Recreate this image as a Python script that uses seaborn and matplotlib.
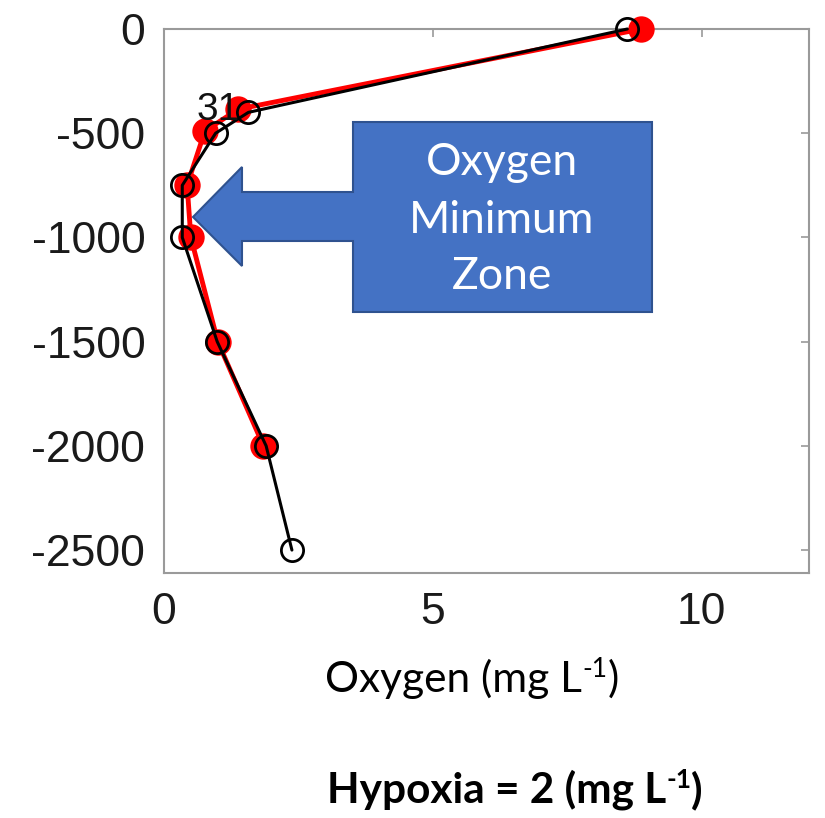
import matplotlib
matplotlib.use("Agg")
import matplotlib.pyplot as plt
from matplotlib.patches import Polygon
import seaborn as sns
import pandas as pd

# Dissolved oxygen profiles (mg/L) against depth (m)
depth_a = [0, -400, -500, -750, -1000, -1500, -2000, -2500]
oxygen_a = [8.62, 1.57, 0.96, 0.34, 0.34, 0.99, 1.90, 2.38]

depth_b = [0, -385, -490, -750, -1000, -1500, -2000]
oxygen_b = [8.88, 1.38, 0.76, 0.43, 0.50, 1.00, 1.85]

x_ticks = [0, 5, 10]
y_ticks = [-2500, -2000, -1500, -1000, -500, 0]
station_label = "31"

W, H = 825, 818

sns.set_style("white")
plt.rcParams["font.family"] = ["Liberation Sans", "DejaVu Sans"]
plt.rcParams["axes.unicode_minus"] = False


def fx(px):
    return px / W


def fy(py):
    return 1 - py / H


fig = plt.figure(figsize=(W / 100, H / 100), dpi=100)
ax = fig.add_axes([fx(164), fy(573), (809 - 164) / W, (573 - 29) / H])

df_b = pd.DataFrame({"oxygen": oxygen_b, "depth": depth_b})
df_a = pd.DataFrame({"oxygen": oxygen_a, "depth": depth_a})

sns.lineplot(data=df_b, x="oxygen", y="depth", sort=False, estimator=None,
             color="#ff0000", lw=3.5, marker="o", markersize=19,
             markeredgecolor="#ff0000", markeredgewidth=0, clip_on=False,
             ax=ax, zorder=3)
sns.lineplot(data=df_a, x="oxygen", y="depth", sort=False, estimator=None,
             color="black", lw=2.2, marker="o", markersize=16,
             markerfacecolor="none", markeredgecolor="black",
             markeredgewidth=2.0, clip_on=False, ax=ax, zorder=4)

ax.text(0.6, -437, station_label, fontsize=28, ha="left", va="baseline",
        color="#111111", zorder=5)

ax.set_xlim(0, 12)
ax.set_ylim(-2610, 0)
ax.set_xticks(x_ticks)
ax.set_yticks(y_ticks)
ax.set_xlabel("")
ax.set_ylabel("")
for s in ax.spines.values():
    s.set_color("#9a9a9a")
    s.set_linewidth(1.5)
ax.tick_params(direction="in", length=6, width=1.2, color="#9a9a9a",
               labelcolor="#1a1a1a", labelsize=32, pad=13.5,
               top=True, right=True)

# Block arrow pointing at the oxygen minimum layer
pts = [(193, 217), (242, 167), (242, 192), (353, 192), (353, 122),
       (652, 122), (652, 312), (353, 312), (353, 241), (242, 241),
       (242, 266)]
arrow = Polygon([(fx(x), fy(y)) for x, y in pts], closed=True,
                transform=fig.transFigure, facecolor="#4472c4",
                edgecolor="#2f528f", linewidth=1.5, zorder=10)
fig.patches.append(arrow)

for word, base in [("Oxygen", 175), ("Minimum", 233), ("Zone", 289)]:
    fig.text(fx(502), fy(base), word, family="Lato", fontsize=32,
             color="white", ha="center", va="baseline", zorder=11)


def unit_label(cx, base_y, head, size, weight):
    """Write head + superscript '-1' + ')' centred on cx (pixels)."""
    renderer = fig.canvas.get_renderer()
    parts = [(head, size, 0), ("-1", size * 0.62, 15), (")", size, 0)]
    widths = []
    for txt, sz, _ in parts:
        t = fig.text(0, 0, txt, family="Lato", fontsize=sz, fontweight=weight)
        widths.append(t.get_window_extent(renderer).width)
        t.remove()
    x = cx - sum(widths) / 2
    for (txt, sz, rise), w in zip(parts, widths):
        fig.text(fx(x), fy(base_y - rise), txt, family="Lato", fontsize=sz,
                 fontweight=weight, color="black", ha="left", va="baseline")
        x += w


unit_label(472, 692, "Oxygen (mg L", 30.5, "normal")
unit_label(515, 803, "Hypoxia = 2 (mg L", 30.5, "bold")

fig.savefig("out.png", dpi=100)
